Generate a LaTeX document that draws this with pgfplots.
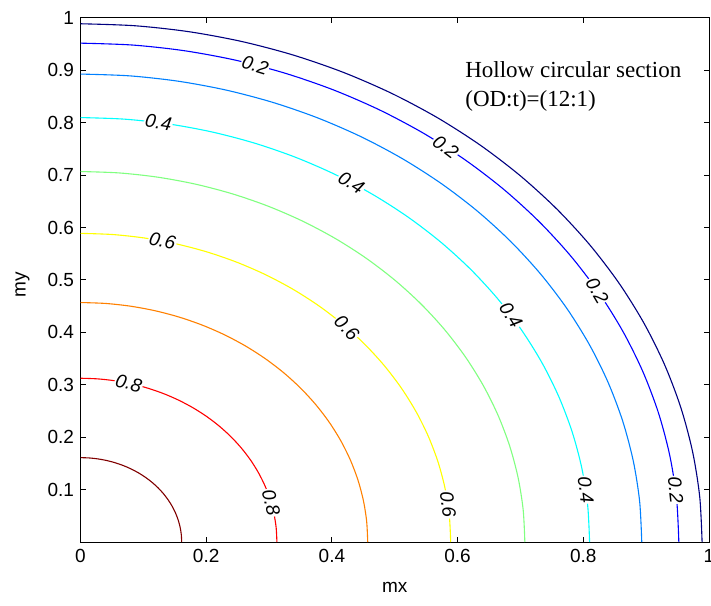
\documentclass[border=0pt]{standalone}
\usepackage{fontspec}
\setmainfont{Liberation Sans}
\newfontfamily\timesfont{Liberation Serif}
\usepackage{pgfplots}
\pgfplotsset{compat=1.18}
\definecolor{c1}{rgb}{0,0,0.5}
\definecolor{c2}{rgb}{0,0,1}
\definecolor{c3}{rgb}{0,0.5,1}
\definecolor{c4}{rgb}{0,1,1}
\definecolor{c5}{rgb}{0.5,1,0.5}
\definecolor{c6}{rgb}{1,1,0}
\definecolor{c7}{rgb}{1,0.5,0}
\definecolor{c8}{rgb}{1,0,0}
\definecolor{c9}{rgb}{0.5,0,0}
\tikzset{clab/.style={fill=white,inner sep=1pt,font=\itshape\fontsize{19}{19}\selectfont}}
\begin{document}
\begin{tikzpicture}
\useasboundingbox (-80.5pt,-63pt) rectangle (630.5pt,542pt);
\begin{axis}[
  scale only axis, width=628.5pt, height=524pt,
  at={(0,0)}, anchor=south west,
  xmin=0, xmax=1, ymin=0, ymax=1,
  xtick={0,0.2,0.4,0.6,0.8,1},
  xticklabels={0,0.2,0.4,0.6,0.8,1},
  ytick={0.1,0.2,0.3,0.4,0.5,0.6,0.7,0.8,0.9,1},
  yticklabels={0.1,0.2,0.3,0.4,0.5,0.6,0.7,0.8,0.9,1},
  tick align=inside, major tick length=5pt,
  tick style={black, line width=1pt},
  axis line style={black, line width=1pt},
  tick label style={font=\fontsize{19}{19}\selectfont},
  /pgf/number format/assume math mode=true,
  xticklabel style={yshift=-4pt},
  yticklabel style={xshift=-3pt},
]
% level 0.9
\addplot[c9,line width=1.1pt,smooth] coordinates {(0.161,0) (0.16039,0.01403) (0.15855,0.02796) (0.15551,0.04167) (0.15129,0.05507) (0.14592,0.06804) (0.13943,0.0805) (0.13188,0.09235) (0.12333,0.10349) (0.11384,0.11384) (0.10349,0.12333) (0.09235,0.13188) (0.0805,0.13943) (0.06804,0.14592) (0.05507,0.15129) (0.04167,0.15551) (0.02796,0.15855) (0.01403,0.16039) (0,0.161)};
% level 0.8
\addplot[c8,line width=1.1pt,smooth] coordinates {(0.3125,0) (0.31131,0.02724) (0.30775,0.05427) (0.30185,0.08088) (0.29365,0.10688) (0.28322,0.13207) (0.27063,0.15625) (0.25598,0.17924) (0.23939,0.20087) (0.22097,0.22097) (0.20087,0.23939) (0.17924,0.25598) (0.15625,0.27063) (0.13207,0.28322) (0.10688,0.29365) (0.08088,0.30185) (0.05427,0.30775) (0.02724,0.31131) (0,0.3125)};
% level 0.7
\addplot[c7,line width=1.1pt,smooth] coordinates {(0.457,0) (0.45526,0.03983) (0.45006,0.07936) (0.44143,0.11828) (0.42944,0.1563) (0.41418,0.19314) (0.39578,0.2285) (0.37435,0.26213) (0.35008,0.29376) (0.32315,0.32315) (0.29376,0.35008) (0.26213,0.37435) (0.2285,0.39578) (0.19314,0.41418) (0.1563,0.42944) (0.11828,0.44143) (0.07936,0.45006) (0.03983,0.45526) (0,0.457)};
% level 0.6
\addplot[c6,line width=1.1pt,smooth] coordinates {(0.589,0) (0.58676,0.05134) (0.58005,0.10228) (0.56893,0.15245) (0.55348,0.20145) (0.53382,0.24892) (0.51009,0.2945) (0.48248,0.33784) (0.4512,0.3786) (0.41649,0.41649) (0.3786,0.4512) (0.33784,0.48248) (0.2945,0.51009) (0.24892,0.53382) (0.20145,0.55348) (0.15245,0.56893) (0.10228,0.58005) (0.05134,0.58676) (0,0.589)};
% level 0.5
\addplot[c5,line width=1.1pt,smooth] coordinates {(0.707,0) (0.70431,0.06162) (0.69626,0.12277) (0.68291,0.18299) (0.66436,0.24181) (0.64076,0.29879) (0.61228,0.3535) (0.57914,0.40552) (0.54159,0.45445) (0.49993,0.49993) (0.45445,0.54159) (0.40552,0.57914) (0.3535,0.61228) (0.29879,0.64076) (0.24181,0.66436) (0.18299,0.68291) (0.12277,0.69626) (0.06162,0.70431) (0,0.707)};
% level 0.4
\addplot[c4,line width=1.1pt,smooth] coordinates {(0.81,0) (0.80691,0.0706) (0.7977,0.14066) (0.7824,0.20964) (0.76115,0.27704) (0.73411,0.34232) (0.70148,0.405) (0.66351,0.4646) (0.62049,0.52066) (0.57276,0.57276) (0.52066,0.62049) (0.4646,0.66351) (0.405,0.70148) (0.34232,0.73411) (0.27704,0.76115) (0.20964,0.7824) (0.14066,0.7977) (0.0706,0.80691) (0,0.81)};
% level 0.3
\addplot[c3,line width=1.1pt,smooth] coordinates {(0.893,0) (0.8896,0.07783) (0.87944,0.15507) (0.86258,0.23113) (0.83914,0.30542) (0.80934,0.3774) (0.77337,0.4465) (0.7315,0.51221) (0.68407,0.57401) (0.63145,0.63145) (0.57401,0.68407) (0.51221,0.7315) (0.4465,0.77337) (0.3774,0.80934) (0.30542,0.83914) (0.23113,0.86258) (0.15507,0.87944) (0.07783,0.8896) (0,0.893)};
% level 0.2
\addplot[c2,line width=1.1pt,smooth] coordinates {(0.952,0) (0.94837,0.08298) (0.93754,0.16532) (0.91957,0.2464) (0.89459,0.3256) (0.86281,0.40233) (0.82446,0.476) (0.77983,0.54605) (0.72927,0.61194) (0.67317,0.67317) (0.61194,0.72927) (0.54605,0.77983) (0.476,0.82446) (0.40233,0.86281) (0.3256,0.89459) (0.2464,0.91957) (0.16532,0.93754) (0.08298,0.94837) (0,0.952)};
% level 0.1
\addplot[c1,line width=1.1pt,smooth] coordinates {(0.989,0) (0.98523,0.0862) (0.97398,0.17174) (0.95531,0.25597) (0.92935,0.33826) (0.89634,0.41797) (0.8565,0.4945) (0.81014,0.56727) (0.75761,0.63572) (0.69933,0.69933) (0.63572,0.75761) (0.56727,0.81014) (0.4945,0.8565) (0.41797,0.89634) (0.33826,0.92935) (0.25597,0.95531) (0.17174,0.97398) (0.0862,0.98523) (0,0.989)};
% contour labels
\node[clab,rotate=-17] at (axis cs:0.278,0.910) {0.2};
\node[clab,rotate=-37.6] at (axis cs:0.581,0.754) {0.2};
\node[clab,rotate=-59.7] at (axis cs:0.822,0.480) {0.2};
\node[clab,rotate=-84] at (axis cs:0.947,0.0995) {0.2};
\node[clab,rotate=-8.8] at (axis cs:0.124,0.8005) {0.4};
\node[clab,rotate=-32.2] at (axis cs:0.431,0.686) {0.4};
\node[clab,rotate=-57.7] at (axis cs:0.685,0.433) {0.4};
\node[clab,rotate=-82.9] at (axis cs:0.804,0.100) {0.4};
\node[clab,rotate=-12.8] at (axis cs:0.1305,0.5744) {0.6};
\node[clab,rotate=-46] at (axis cs:0.4237,0.4092) {0.6};
\node[clab,rotate=-83] at (axis cs:0.5846,0.0718) {0.6};
\node[clab,rotate=-14.2] at (axis cs:0.0767,0.3030) {0.8};
\node[clab,rotate=-76.1] at (axis cs:0.3034,0.0751) {0.8};
\node[anchor=west, align=left, inner sep=0pt, font=\timesfont\fontsize{23}{29}\selectfont] at (axis cs:0.612,0.869) {Hollow circular section\\(OD:t)=(12:1)};
\end{axis}
\node[font=\fontsize{19}{19}\selectfont] at (314.25pt,-45pt) {mx};
\node[rotate=90,font=\fontsize{19}{19}\selectfont] at (-58pt,257pt) {my};
\end{tikzpicture}
\end{document}
